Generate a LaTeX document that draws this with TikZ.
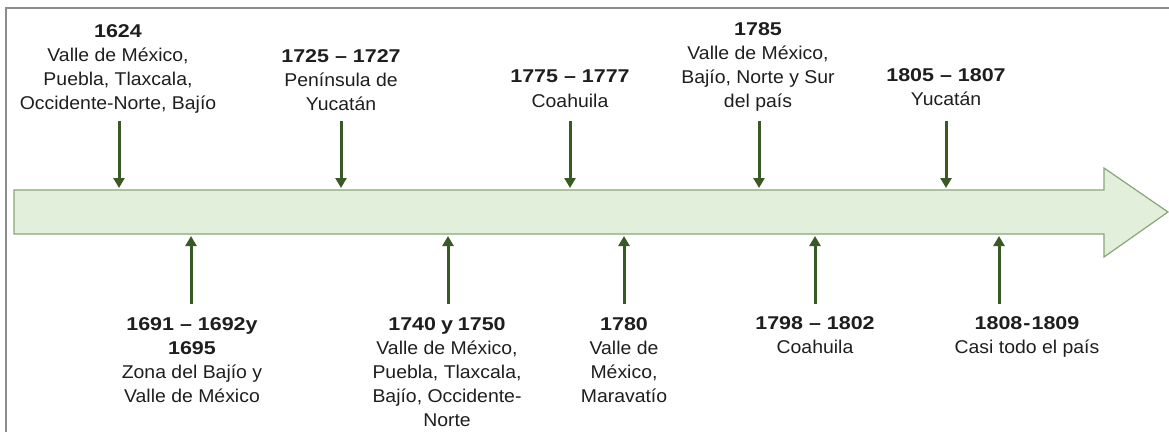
\documentclass[tikz,border=0pt]{standalone}
\usepackage{fontspec}
\setmainfont{Liberation Sans}[FakeStretch=1.05]
\newfontfamily\yrfont{Liberation Sans}[FakeStretch=1.16]
\usetikzlibrary{arrows.meta}
\definecolor{tlfill}{HTML}{E2EFDA}
\definecolor{tlline}{HTML}{88A67A}
\definecolor{stem}{HTML}{3A5A25}
\definecolor{framegray}{HTML}{8C8C8C}
\definecolor{txt}{HTML}{1E1E1E}
\newcommand{\yr}[1]{{\yrfont\bfseries #1}}
\begin{document}
\begin{tikzpicture}[x=1pt,y=-1pt,
  lbl/.style={align=center, anchor=north, inner sep=0pt, text=txt,
    font=\fontsize{18.5}{24.2}\selectfont},
  stemarrow/.style={draw=stem, line width=3pt, -{Triangle[width=11pt,length=10pt]}},
  timeline/.style={draw=tlline, fill=tlfill, line width=1.2pt, line join=miter}]
\path[use as bounding box, clip] (0,0) rectangle (1169,431);
% frame
\draw[framegray, line width=2pt] (6,460) -- (6,8) -- (1200,8);
% big arrow
\draw[timeline] (14,190) -- (1104,190) -- (1104,168) -- (1168,212)
  -- (1104,257) -- (1104,234) -- (14,234) -- cycle;
% top labels
\node[lbl] (t1624) at (118,24) {\yr{1624}\\Valle de México,\\Puebla, Tlaxcala,\\Occidente-Norte, Bajío};
\node[lbl] (t1725) at (341,49) {\yr{1725 – 1727}\\Península de\\Yucatán};
\node[lbl] (t1775) at (570,70) {\yr{1775 – 1777}\\Coahuila};
\node[lbl] (t1785) at (758,22) {\yr{1785}\\Valle de México,\\Bajío, Norte y Sur\\del país};
\node[lbl] (t1805) at (946,68) {\yr{1805 – 1807}\\Yucatán};
% bottom labels
\node[lbl] (b1691) at (192,317) {\yr{1691 – 1692y}\\\yr{1695}\\Zona del Bajío y\\Valle de México};
\node[lbl] (b1740) at (447,317) {\yr{1740\kern-1pt{} y\kern-1pt{} 1750}\\Valle de México,\\Puebla, Tlaxcala,\\Bajío, Occidente-\\Norte};
\node[lbl] (b1780) at (624,317) {\yr{1780}\\Valle de\\México,\\Maravatío};
\node[lbl] (b1798) at (815,316) {\yr{1798 – 1802}\\Coahuila};
\node[lbl] (b1808) at (1027,316) {\yr{1808\kern1pt-\kern1pt1809}\\Casi todo el país};
% connector end points
\foreach \n/\x in {a/119,b/341,c/570,d/759,e/946}{
  \coordinate (s\n) at (\x,121);
  \coordinate (e\n) at (\x,188);
  \draw[stemarrow] (s\n) -- (e\n);
}
\foreach \n/\x in {f/191,g/448,h/624,i/815,j/999}{
  \coordinate (s\n) at (\x,304);
  \coordinate (e\n) at (\x,236);
  \draw[stemarrow] (s\n) -- (e\n);
}
\end{tikzpicture}
\end{document}
